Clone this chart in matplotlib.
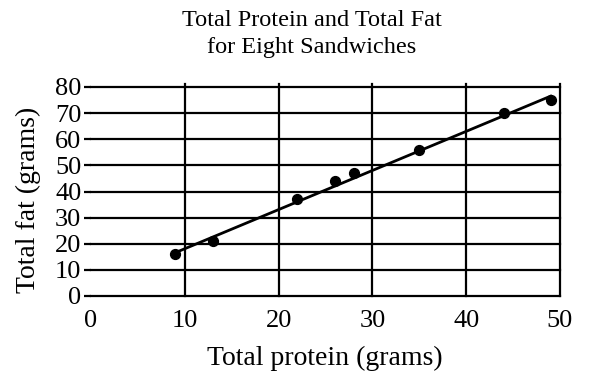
import matplotlib.pyplot as plt

plt.rcParams['font.family'] = ['Liberation Serif', 'DejaVu Serif']

# data
protein = [9, 13, 22, 26, 28, 35, 44, 49]
fat = [16, 21, 37, 44, 47, 56, 70, 75]
fit_x = [9, 49]
fit_y = [16.6, 76.5]
x_ticks = [0, 10, 20, 30, 40, 50]
y_ticks = [0, 10, 20, 30, 40, 50, 60, 70, 80]

fig = plt.figure(figsize=(5.89, 3.88), dpi=100)
ax = fig.add_axes([91/589, 1 - 296/388, (560 - 91)/589, (296 - 87)/388])

ax.set_xlim(0, 50)
ax.set_ylim(0, 80)
ax.set_xticks(x_ticks)
ax.set_yticks(y_ticks)

for s in ['top', 'right', 'left']:
    ax.spines[s].set_visible(False)
ax.spines['bottom'].set_linewidth(1.6)

for y in y_ticks[1:]:
    ax.axhline(y, color='black', lw=1.6, clip_on=False)
for x in x_ticks[1:]:
    ax.plot([x, x], [0, 81], color='black', lw=1.6, clip_on=False)

ax.plot(fit_x, fit_y, color='black', lw=2, clip_on=False)
ax.scatter(protein, fat, s=50, color='black', zorder=3, clip_on=False)

ax.tick_params(axis='y', length=5, width=1.6, pad=2, labelsize=19)
ax.tick_params(axis='x', length=0, pad=10, labelsize=19)

fig.text(312/589, 1 - 34/388, 'Total Protein and Total Fat\nfor Eight Sandwiches',
         ha='center', va='center', fontsize=17.5, linespacing=1.4)
fig.text(325/589, 1 - 358/388, 'Total protein (grams)', ha='center', va='center',
         fontsize=20)
fig.text(28/589, 1 - 200/388, 'Total fat (grams)', ha='center', va='center',
         rotation=90, fontsize=20)

fig.savefig('out.png', dpi=100)
